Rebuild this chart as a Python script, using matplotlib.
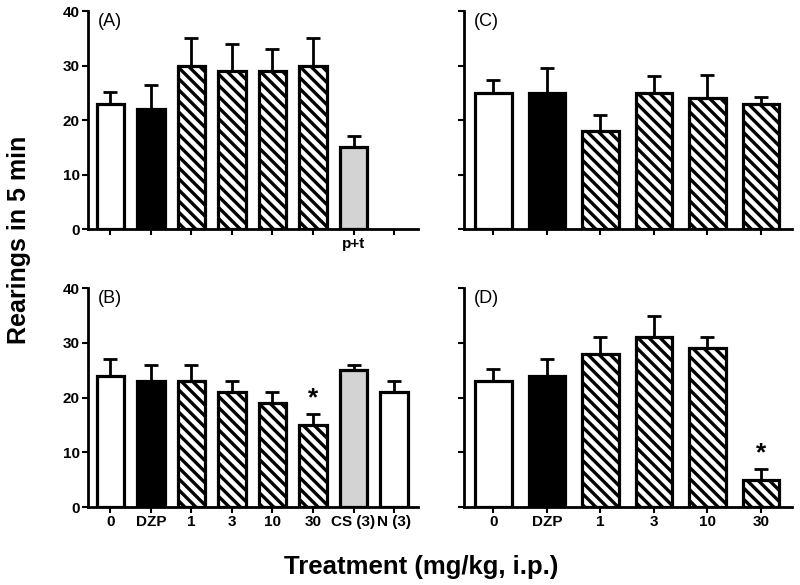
import numpy as np
import matplotlib
matplotlib.use('Agg')
import matplotlib.pyplot as plt

plt.rcParams['font.family'] = ['Liberation Sans', 'DejaVu Sans']
plt.rcParams['hatch.linewidth'] = 2.4

# Panel A
a_labels = ['', '', '', '', '', '', 'p+t', '']
a_mean = [23, 22, 30, 29, 29, 30, 15]
a_sem = [2.2, 4.5, 5, 5, 4, 5, 2]
a_fill = ['white', 'black', 'hatch', 'hatch', 'hatch', 'hatch', 'lightgray']

# Panel B
b_labels = ['0', 'DZP', '1', '3', '10', '30', 'CS (3)', 'N (3)']
b_mean = [24, 23, 23, 21, 19, 15, 25, 21]
b_sem = [3, 3, 3, 2, 2, 2, 1, 2]
b_fill = ['white', 'black', 'hatch', 'hatch', 'hatch', 'hatch', 'lightgray', 'white']
b_star = [5]

# Panel C
c_labels = ['', '', '', '', '', '']
c_mean = [25, 25, 18, 25, 24, 23]
c_sem = [2.3, 4.5, 3, 3, 4.2, 1.2]
c_fill = ['white', 'black', 'hatch', 'hatch', 'hatch', 'hatch']

# Panel D
d_labels = ['0', 'DZP', '1', '3', '10', '30']
d_mean = [23, 24, 28, 31, 29, 5]
d_sem = [2.3, 3, 3, 4, 2, 2]
d_fill = ['white', 'black', 'hatch', 'hatch', 'hatch', 'hatch']
d_star = [5]


def panel(ax, mean, sem, fill, labels, tag, ylabels=True, stars=()):
    n = len(labels)
    x = np.arange(len(mean))
    for i in x:
        f = fill[i]
        if f == 'hatch':
            ax.bar(i, mean[i], width=0.68, color='white', edgecolor='black',
                   hatch='\\\\\\', linewidth=2.3, zorder=2)
        else:
            ax.bar(i, mean[i], width=0.68, color=f, edgecolor='black',
                   linewidth=2.3, zorder=2)
    ax.errorbar(x, mean, yerr=[np.zeros(len(mean)), sem], fmt='none',
                ecolor='black', elinewidth=2, capsize=5, capthick=2, zorder=1)
    for s in stars:
        ax.text(s, mean[s] + sem[s] + 0.6, '*', ha='center', va='bottom',
                fontsize=19, fontweight='bold')
    ax.set_xlim(-0.55, n - 0.42)
    ax.set_ylim(0, 40)
    ax.set_yticks([0, 10, 20, 30, 40])
    ax.set_xticks(np.arange(n))
    ax.set_xticklabels(labels, fontsize=11, fontweight='bold')
    if ylabels:
        ax.set_yticklabels(['0', '10', '20', '30', '40'], fontsize=11, fontweight='bold')
    else:
        ax.set_yticklabels([])
    ax.spines['top'].set_visible(False)
    ax.spines['right'].set_visible(False)
    ax.spines['left'].set_linewidth(2)
    ax.spines['bottom'].set_linewidth(2)
    ax.tick_params(axis='both', width=1.5, length=4, pad=2)
    ax.text(0.03, 0.99, tag, transform=ax.transAxes, fontsize=13, va='top', ha='left')


fig = plt.figure(figsize=(8, 5.85), dpi=100)
axA = fig.add_axes([0.11, 0.6085, 0.412, 0.3726])
axC = fig.add_axes([0.58, 0.6085, 0.41, 0.3726])
axB = fig.add_axes([0.11, 0.1333, 0.412, 0.374])
axD = fig.add_axes([0.58, 0.1333, 0.41, 0.374])

panel(axA, a_mean, a_sem, a_fill, a_labels, '(A)')
panel(axB, b_mean, b_sem, b_fill, b_labels, '(B)', stars=b_star)
panel(axC, c_mean, c_sem, c_fill, c_labels, '(C)', ylabels=False)
panel(axD, d_mean, d_sem, d_fill, d_labels, '(D)', ylabels=False, stars=d_star)

fig.text(0.024, 0.59, 'Rearings in 5 min', rotation=90, ha='center', va='center',
         fontsize=18, fontweight='bold')
fig.text(0.527, 0.031, 'Treatment (mg/kg, i.p.)', ha='center', va='center',
         fontsize=18.5, fontweight='bold')

fig.savefig('out.png', dpi=100)
